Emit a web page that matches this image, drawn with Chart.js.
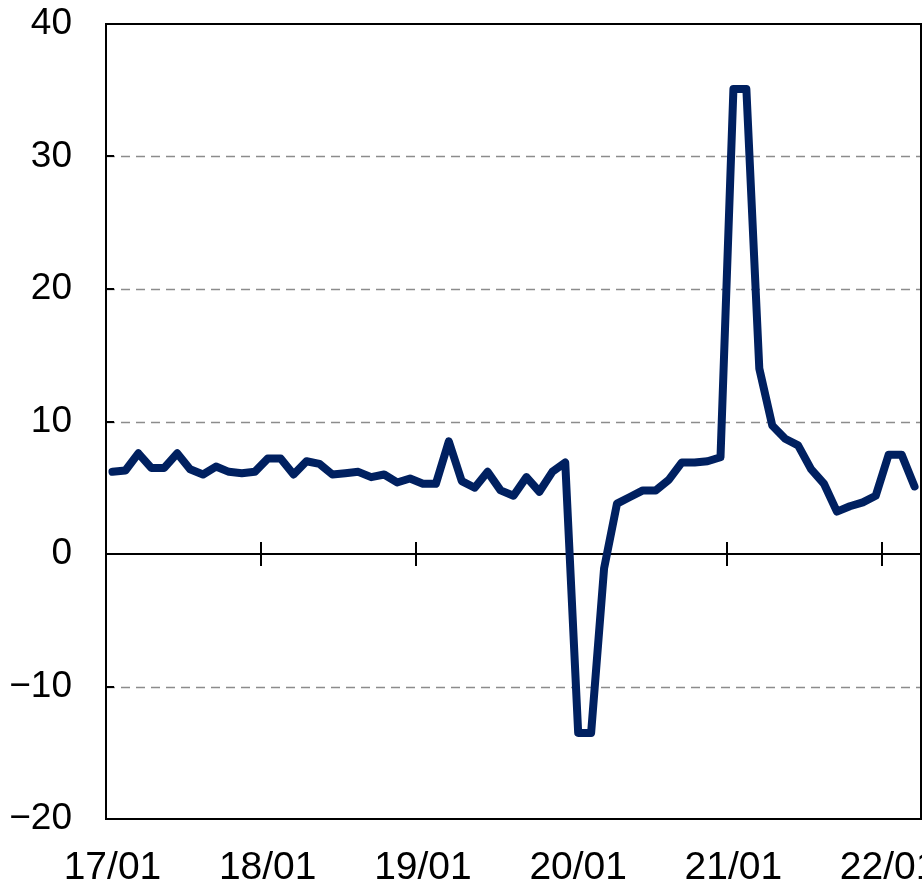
<!DOCTYPE html>
<html>
<head>
<meta charset="utf-8">
<script src="https://cdn.jsdelivr.net/npm/chart.js@4.4.0/dist/chart.umd.min.js"></script>
<style>
    body { margin: 0; background: #ffffff; }
    #wrap { width: 922px; height: 885px; }
</style>
</head>
<body>
<div id="wrap"><canvas id="growth"></canvas></div>
<script>
// monthly labels, 17/01 .. 22/03
const months = [
    "17/01","17/02","17/03","17/04","17/05","17/06","17/07","17/08","17/09","17/10","17/11","17/12",
    "18/01","18/02","18/03","18/04","18/05","18/06","18/07","18/08","18/09","18/10","18/11","18/12",
    "19/01","19/02","19/03","19/04","19/05","19/06","19/07","19/08","19/09","19/10","19/11","19/12",
    "20/01","20/02","20/03","20/04","20/05","20/06","20/07","20/08","20/09","20/10","20/11","20/12",
    "21/01","21/02","21/03","21/04","21/05","21/06","21/07","21/08","21/09","21/10","21/11","21/12",
    "22/01","22/02","22/03"
];

const values = [
    6.2, 6.3, 7.6, 6.5, 6.5, 7.6, 6.4, 6.0, 6.6, 6.2, 6.1, 6.2,
    7.2, 7.2, 6.0, 7.0, 6.8, 6.0, 6.1, 6.2, 5.8, 6.0, 5.4, 5.7,
    5.3, 5.3, 8.5, 5.5, 5.0, 6.2, 4.8, 4.4, 5.8, 4.7, 6.2, 6.9,
    -13.5, -13.5, -1.1, 3.8, 4.3, 4.8, 4.8, 5.6, 6.9, 6.9, 7.0, 7.3,
    35.1, 35.1, 14.0, 9.7, 8.7, 8.2, 6.4, 5.3, 3.2, 3.6, 3.9, 4.4,
    7.5, 7.5, 5.1
];

const yTicks = [-20, -10, 0, 10, 20, 30, 40];
const lineColor = "#002060";

// frame, dashed grid, zero line and small tick marks
const framePlugin = {
    id: "frame",
    beforeDatasetsDraw(chart){
        let ctx = chart.ctx,
            area = chart.chartArea,
            x = chart.scales.x,
            y = chart.scales.y;

        ctx.save();
        // dashed gridlines
        ctx.strokeStyle = "#8c8c8c";
        ctx.lineWidth = 1.5;
        ctx.setLineDash([9, 6]);
        yTicks.forEach((v) => {
            if(v === 0 || v === yTicks[0] || v === yTicks[yTicks.length - 1]) return;
            let py = Math.round(y.getPixelForValue(v)) + 0.5;
            ctx.beginPath();
            ctx.moveTo(area.left, py);
            ctx.lineTo(area.right, py);
            ctx.stroke();
        });
        ctx.setLineDash([]);

        // inner y tick marks
        ctx.strokeStyle = "#000000";
        ctx.lineWidth = 2;
        yTicks.forEach((v) => {
            let py = Math.round(y.getPixelForValue(v));
            ctx.beginPath();
            ctx.moveTo(area.left, py);
            ctx.lineTo(area.left + 8, py);
            ctx.stroke();
        });

        // zero line with year ticks
        let zy = Math.round(y.getPixelForValue(0));
        ctx.lineWidth = 2;
        ctx.beginPath();
        ctx.moveTo(area.left, zy);
        ctx.lineTo(area.right, zy);
        ctx.stroke();
        for(let i = 1; i < months.length; i++){
            if(!months[i].endsWith("/01")) continue;
            let px = Math.round((x.getPixelForValue(i - 1) + x.getPixelForValue(i)) / 2);
            ctx.beginPath();
            ctx.moveTo(px, zy - 12);
            ctx.lineTo(px, zy + 12);
            ctx.stroke();
        }

        // frame
        ctx.lineWidth = 2;
        ctx.strokeRect(area.left, area.top, area.right - area.left, area.bottom - area.top);
        ctx.restore();
    },
};

new Chart("growth", {
    type: "line",
    data: {
        labels: months,
        datasets: [{
            data: values,
            borderColor: lineColor,
            backgroundColor: lineColor,
            borderWidth: 8,
            pointRadius: 0,
            tension: 0,
            fill: false,
            borderCapStyle: "round",
            borderJoinStyle: "round",
        }],
    },
    options: {
        responsive: true,
        maintainAspectRatio: false,
        animation: false,
        layout: {
            padding: { top: 24, right: 1, left: 0, bottom: 0 },
        },
        plugins: {
            legend: { display: false },
            tooltip: { enabled: false },
        },
        scales: {
            x: {
                type: "category",
                offset: true,
                grid: { display: false, drawTicks: false },
                border: { display: false },
                ticks: {
                    autoSkip: false,
                    maxRotation: 0,
                    minRotation: 0,
                    padding: 26,
                    color: "#000000",
                    font: { family: "'Liberation Sans', Arial, sans-serif", size: 39 },
                    callback: (val, idx) => { return months[idx].endsWith("/01") ? months[idx] : ""; },
                },
                afterFit: (scale) => {
                    scale.height = 66;
                    scale.paddingLeft = 0;
                    scale.paddingRight = 0;
                },
            },
            y: {
                min: -20,
                max: 40,
                grid: { display: false, drawTicks: false },
                border: { display: false },
                ticks: {
                    stepSize: 10,
                    padding: 34,
                    color: "#000000",
                    font: { family: "'Liberation Sans', Arial, sans-serif", size: 37 },
                    callback: (v) => { return v < 0 ? "\u2212" + Math.abs(v) : String(v); },
                },
                afterFit: (scale) => {
                    scale.width = 106;
                    scale.paddingTop = 0;
                    scale.paddingBottom = 0;
                },
            },
        },
    },
    plugins: [framePlugin],
});
</script>
</body>
</html>
